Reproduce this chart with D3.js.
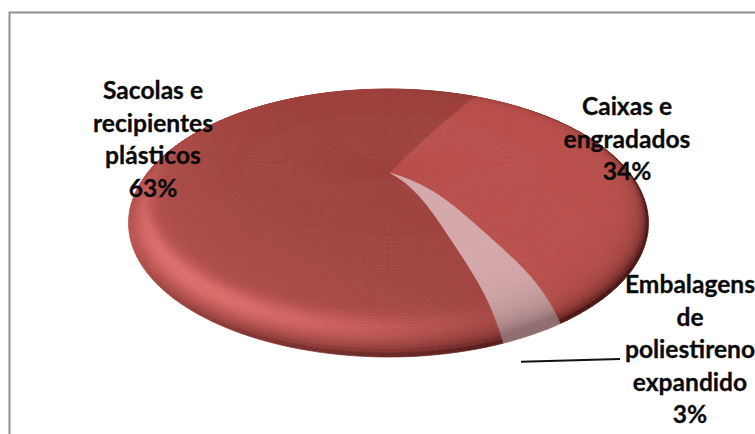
<!DOCTYPE html>
<html lang="pt">
<head>
<meta charset="utf-8">
<title>Embalagens</title>
<script src="https://cdn.jsdelivr.net/npm/d3@7"></script>
<style>
  html, body { margin: 0; padding: 0; background: #fff; }
  svg { display: block; }
  text { font-family: Lato, "Noto Sans", sans-serif; font-weight: 700; font-size: 24.6px; fill: #0a0a0a; stroke: #0a0a0a; stroke-width: 0.3px; text-anchor: middle; }
</style>
</head>
<body>
<svg id="chart" width="755" height="434"></svg>
<script>
// Chart data: share of each packaging type, in percent
const categories = ["Caixas e engradados", "Embalagens de poliestireno expandido", "Sacolas e recipientes plásticos"];
const shares = [34, 3, 63];
const baseColors = ["#b84f4b", "#d4a7aa", "#9d413d"];
const glowColors = ["#dd6f6c", "#d4a7aa", "#dc6c6a"];
const lipColors = ["#4d1716", "#8f6c6d", "#4d1716"];
const labelLines = [
  ["Caixas e", "engradados", "34%"],
  ["Embalagens", "de", "poliestireno", "expandido", "3%"],
  ["Sacolas e", "recipientes", "plásticos", "63%"]
];

const width = 755, height = 434;
const svg = d3.select("#chart");

// Frame around the plot area, running off the right and bottom of the page
svg.append("rect").attr("x", 9.5).attr("y", 12.5).attr("width", 790).attr("height", 460)
  .attr("fill", "#fff").attr("stroke", "#8e8e8e").attr("stroke-width", 2);

// The disc is seen in perspective: a homography takes unit-disc coordinates to the screen
const cx = 388.5, cy = 223, apexDrop = -50, halfH = 134, halfW = 260;
const persp = -apexDrop / halfH;
const scaleX = halfW * Math.sqrt(1 - persp * persp);

function project(r, theta) {
  const u = r * Math.sin(theta), v = -r * Math.cos(theta);
  const w = 1 - persp * v;
  const x = cx + scaleX * u / w;
  let y = cy + (halfH * v + apexDrop) / w;
  // The bevelled surface lifts each spoke above the straight line, right up to the rim
  const dirV = -Math.cos(theta);
  const rise = Math.sin(Math.PI / 2 * Math.min(r / 0.55, 1)) * (1 - Math.pow(r, 14));
  y -= rise * (14 + 12 * dirV);
  return [x, y];
}

const pie = d3.pie().sort(null).startAngle(Math.PI * 29 / 180).endAngle(Math.PI * 389 / 180);
const arcs = pie(shares);

// Brightness of the bevel at a disc position: broad glow, specular band, dark lip
function shade(i, r, theta) {
  const u = Math.sin(theta), v = -Math.cos(theta);
  const e = 1 - r;
  const glow = Math.exp(-e / 0.3) * Math.max(0, -0.7 * u + 0.5 * v) * 0.42;
  const band = Math.exp(-Math.pow((e - 0.05) / 0.032, 2)) * Math.pow(Math.max(0, 0.8 * v - 0.6 * u), 3) * 0.75;
  const lip = Math.exp(-e / 0.013) * Math.max(0, 0.75 * v + 0.55 * u + 0.1) * 1.0;
  const falloff = Math.exp(-e / 0.045) * Math.max(0, 0.95 * u) * 0.42;
  const greyed = i === 1 ? Math.exp(-e / 0.05) * 0.75 : 0;
  let c = d3.interpolateRgb(baseColors[i], glowColors[i])(Math.min(1, glow + band));
  c = d3.interpolateRgb(c, lipColors[i])(Math.min(1, lip + falloff + greyed));
  return c;
}

const cellPath = d3.line();
const rBreaks = d3.range(0, 74).map(i => i < 14 ? i / 14 * 0.6 : 0.6 + (i - 14) / 60 * 0.4);
rBreaks.push(1);

const plate = svg.append("g").attr("class", "pie");
arcs.forEach((a, i) => {
  const steps = Math.max(2, Math.ceil((a.endAngle - a.startAngle) / (Math.PI / 120)));
  const dt = (a.endAngle - a.startAngle) / steps;
  const slice = plate.append("g").attr("class", "slice");
  for (let s = 0; s < steps; s++) {
    const t0 = a.startAngle + s * dt, t1 = t0 + dt;
    for (let k = 0; k < rBreaks.length - 1; k++) {
      const r0 = rBreaks[k], r1 = rBreaks[k + 1];
      const fill = shade(i, (r0 + r1) / 2, (t0 + t1) / 2);
      slice.append("path")
        .attr("d", cellPath([project(r0, t0), project(r1, t0), project(r1, t1), project(r0, t1)]) + "Z")
        .attr("fill", fill).attr("stroke", fill).attr("stroke-width", 0.7);
    }
  }
});

// Leader line for the smallest slice
const leaderX = d3.scaleLinear().domain([0, 1]).range([521, 620]);
const leaderY = d3.scaleLinear().domain([0, 1]).range([361.7, 359]);
svg.append("line").attr("x1", leaderX(0)).attr("y1", leaderY(0)).attr("x2", leaderX(1)).attr("y2", leaderY(1))
  .attr("stroke", "#111").attr("stroke-width", 2);

// Data labels, one text element per line
const labelAnchors = [[627, 115], [690, 293], [153, 99]];
const lineGap = [32.7, 32.6, 32.7];
labelLines.forEach((lines, i) => {
  const t = svg.append("text").attr("class", "label");
  lines.forEach((line, j) => {
    t.append("tspan").attr("x", labelAnchors[i][0]).attr("y", labelAnchors[i][1] + j * lineGap[i]).text(line);
  });
});
</script>
</body>
</html>
